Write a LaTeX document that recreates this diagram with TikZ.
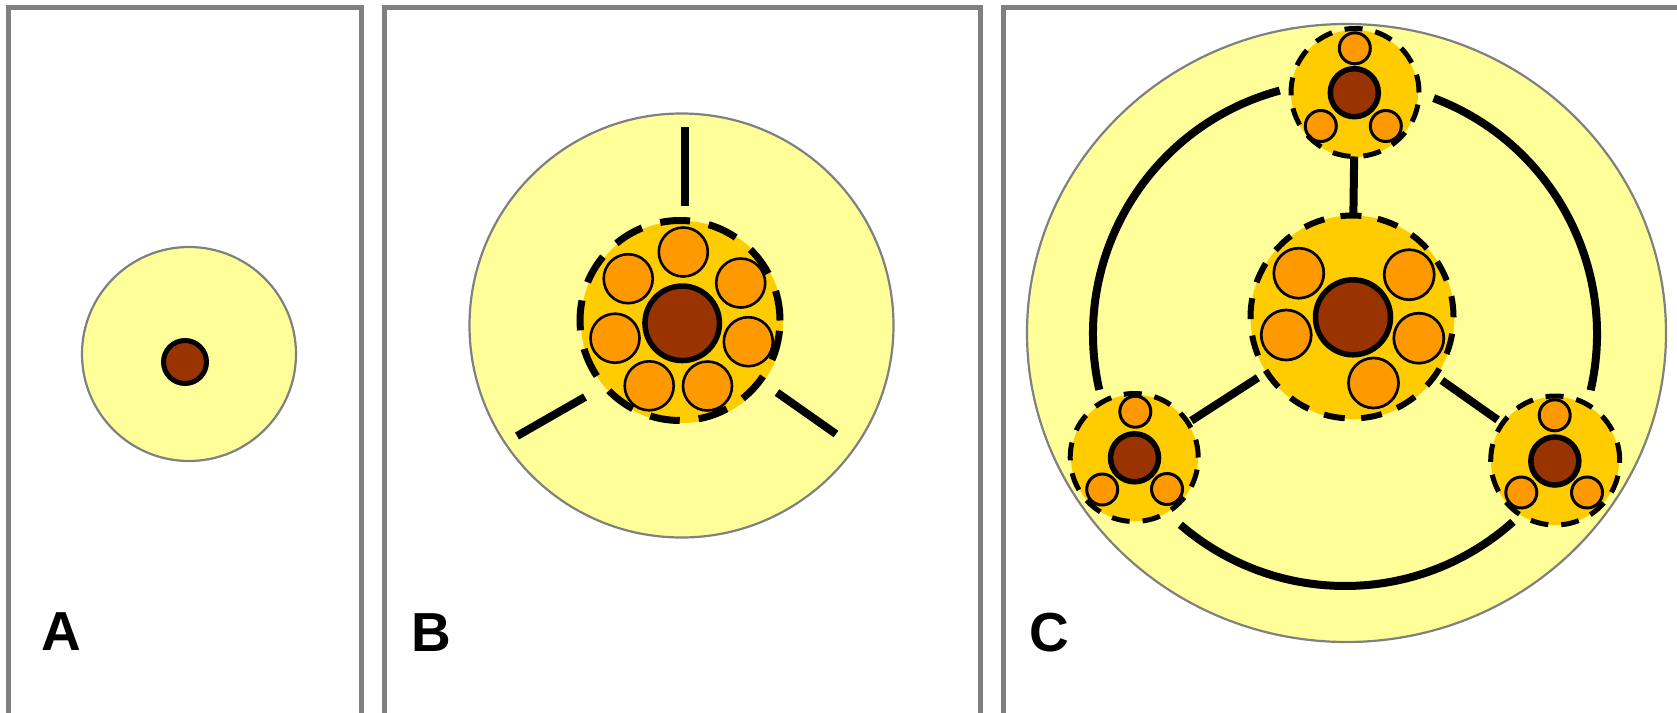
\documentclass[tikz,border=0pt]{standalone}
\usepackage{fontspec}
\setmainfont{Liberation Sans}
\usetikzlibrary{shapes.geometric}
\definecolor{paleyellow}{HTML}{FFFF99}
\definecolor{goldfill}{HTML}{FFCC00}
\definecolor{orng}{HTML}{FF9900}
\definecolor{brwn}{HTML}{993300}
\definecolor{framegray}{HTML}{808080}
\tikzset{
  panel/.style={draw=framegray, line width=5pt},
  cell/.style={circle, fill=paleyellow, draw=framegray, line width=2.2pt, inner sep=0pt, outer sep=0pt},
  clusterfill/.style={circle, fill=goldfill, inner sep=0pt, outer sep=0pt},
  ringbig/.style={circle, draw=black, line width=7pt, dash pattern=on 30pt off 19pt, inner sep=0pt, outer sep=0pt},
  ringmid/.style={circle, draw=black, line width=6pt, dash pattern=on 21pt off 16.5pt, inner sep=0pt, outer sep=0pt},
  ringsmall/.style={circle, draw=black, line width=5pt, dash pattern=on 18pt off 13pt, inner sep=0pt, outer sep=0pt},
  nucleus/.style={circle, fill=brwn, draw=black, line width=5.5pt, inner sep=0pt, outer sep=0pt},
  sat/.style={circle, fill=orng, draw=black, line width=2.6pt, minimum size=49pt, inner sep=0pt, outer sep=0pt},
  satsmall/.style={circle, fill=orng, draw=black, line width=3pt, minimum size=31pt, inner sep=0pt, outer sep=0pt},
  link/.style={draw=black, line width=8pt},
  panellabel/.style={font=\bfseries\fontsize{55}{55}\selectfont, anchor=base west, inner sep=0pt, outer sep=0pt},
}
\begin{document}
\begin{tikzpicture}[x=1pt,y=-1pt]
\useasboundingbox (0,0) rectangle (1677,712);
\clip (0,0) rectangle (1677,712);
% panels
\draw[panel] (8.5,7.5) rectangle (361.5,760);
\draw[panel] (384,7.5) rectangle (980,760);
\draw[panel] (1003,7.5) rectangle (1720,760);

% ---------------- A ----------------
\node[cell, minimum size=214pt] (cellA) at (189,354) {};
\node[nucleus, line width=5pt, minimum size=43pt] (nucA) at (185,362) {};
\node[panellabel] (labA) at (41,650) {A};

% ---------------- B ----------------
\node[cell, minimum size=424pt] (cellB) at (681.5,325.5) {};
\node[clusterfill, minimum size=202pt] (fillB) at (682,322) {};
\node[sat] (b1) at (683.3,252) {};
\node[sat] (b2) at (628.2,278.7) {};
\node[sat] (b3) at (740.7,283) {};
\node[sat] (b4) at (615,338.2) {};
\node[sat] (b5) at (748.3,341.7) {};
\node[sat] (b6) at (649.2,385.8) {};
\node[sat] (b7) at (707.5,386) {};
\node[nucleus, minimum size=74.5pt] (nucB) at (682.2,323.3) {};
\node[ringbig, minimum size=200pt] (ringB) at (680,320.5) {};
\coordinate (bt1) at (685,206);
\coordinate (bt2) at (685,127);
\coordinate (bl1) at (585,397);
\coordinate (bl2) at (517,436);
\coordinate (br1) at (777,392.5);
\coordinate (br2) at (836,434);
\draw[link] (bt1) -- (bt2);
\draw[link] (bl1) -- (bl2);
\draw[link] (br1) -- (br2);
\node[panellabel] (labB) at (411,651) {B};

% ---------------- C ----------------
\node[ellipse, fill=paleyellow, draw=framegray, line width=2.2pt, minimum width=639pt, minimum height=618pt, inner sep=0pt, outer sep=0pt] (cellC) at (1346.5,333) {};
\coordinate (ring) at (1345,334);
\draw[link] ([shift={(-192.8:252)}]ring) arc[start angle=-192.8, end angle=-105, radius=252];
\draw[link] ([shift={(-69.4:252)}]ring) arc[start angle=-69.4, end angle=12.9, radius=252];
\draw[link] ([shift={(48.2:252)}]ring) arc[start angle=48.2, end angle=130.8, radius=252];

% central cluster
\node[clusterfill, minimum size=204pt] (fillC) at (1352.5,317.5) {};
\node[sat, minimum size=50pt, line width=2.7pt] (c1) at (1298.8,273.2) {};
\node[sat, minimum size=50pt, line width=2.7pt] (c2) at (1409.2,274.7) {};
\node[sat, minimum size=50pt, line width=2.7pt] (c3) at (1286.2,335) {};
\node[sat, minimum size=50pt, line width=2.7pt] (c4) at (1418.8,338.2) {};
\node[sat, minimum size=50pt, line width=2.7pt] (c5) at (1373.5,383) {};
\node[nucleus, minimum size=75pt] (nucC) at (1353,317.3) {};
\node[ringmid, minimum size=203pt] (ringC) at (1352,317) {};

% top cluster
\node[clusterfill, minimum size=127pt] (fillT) at (1354.5,93.5) {};
\node[satsmall] (t1) at (1354.8,48.3) {};
\node[satsmall] (t2) at (1320.8,126) {};
\node[satsmall] (t3) at (1385.8,126) {};
\node[nucleus, minimum size=48pt] (nucT) at (1354.3,92.7) {};
\node[ringsmall, minimum size=128pt] (ringT) at (1355,92.5) {};

% lower-left cluster
\node[clusterfill, minimum size=127pt] (fillL) at (1134.5,458) {};
\node[satsmall] (l1) at (1135.3,411.7) {};
\node[satsmall] (l2) at (1102.2,489.5) {};
\node[satsmall] (l3) at (1167,489) {};
\node[nucleus, minimum size=48pt] (nucL) at (1134.5,457.8) {};
\node[ringsmall, minimum size=128pt] (ringL) at (1134.2,457.5) {};

% lower-right cluster
\node[clusterfill, minimum size=128pt] (fillR) at (1555,461) {};
\node[satsmall] (r1) at (1554.7,415.3) {};
\node[satsmall] (r2) at (1521.3,492.5) {};
\node[satsmall] (r3) at (1587,492.5) {};
\node[nucleus, minimum size=48pt] (nucR) at (1554.8,461) {};
\node[ringsmall, minimum size=129pt] (ringR) at (1555.2,460.5) {};

% connectors
\draw[link] (ringC) -- (ringT);
\draw[link, shorten <=10.5pt, shorten >=4pt] (ringC) -- (ringL);
\draw[link, shorten <=8.5pt, shorten >=6pt] (ringC) -- (ringR);

\node[panellabel] (labC) at (1029,651) {C};
\end{tikzpicture}
\end{document}
